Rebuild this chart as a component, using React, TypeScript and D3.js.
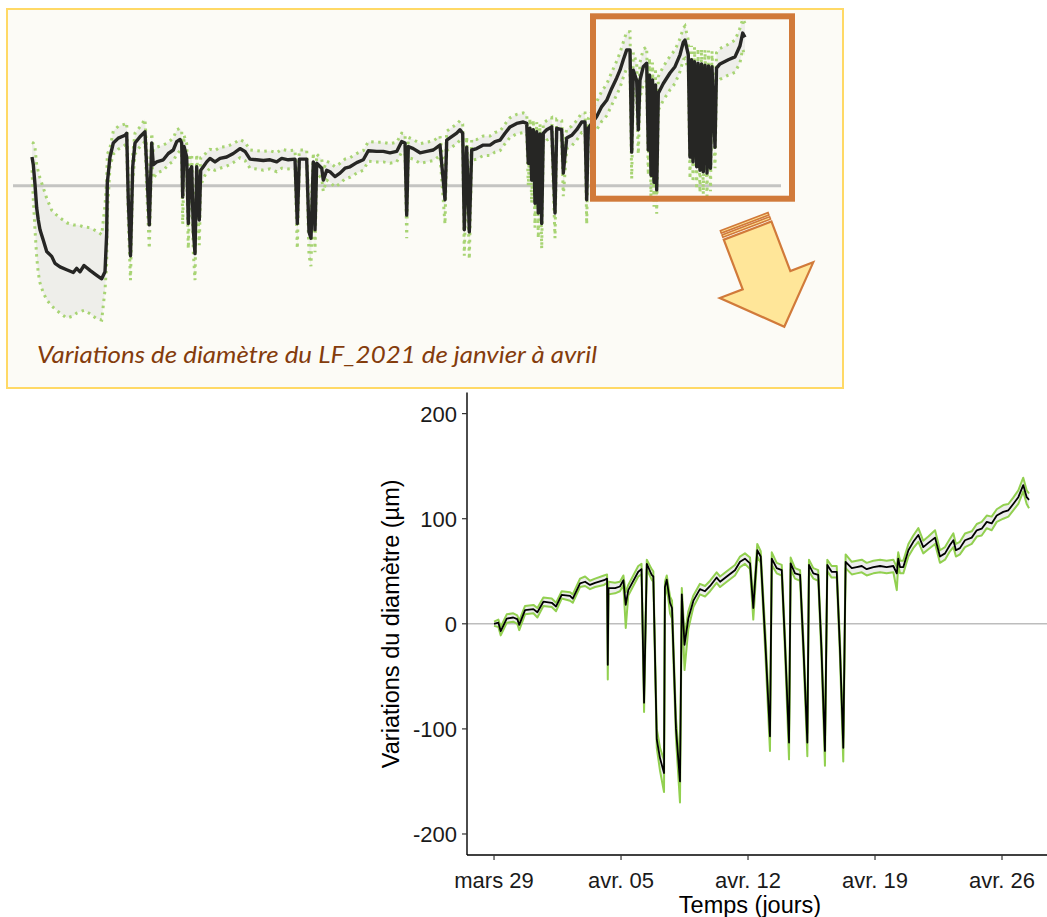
import React from "react";
import * as d3 from "d3";

// ---------- Main chart (29 mars -> 27 avril) ----------
// days since 29 March 2021 00:00
const jours = [0.00,0.24,0.37,0.70,1.06,1.28,1.39,1.71,2.17,2.39,2.72,3.18,3.42,3.73,4.19,4.34,4.74,5.02,5.29,5.57,6.06,6.23,6.27,6.31,6.67,6.94,7.13,7.26,7.40,7.95,8.13,8.27,8.42,8.69,8.78,8.97,9.15,9.37,9.42,9.52,9.70,9.81,10.03,10.25,10.35,10.50,10.71,10.99,11.35,11.63,11.91,12.27,12.46,12.83,13.28,13.56,13.83,14.11,14.29,14.51,14.70,14.96,15.21,15.31,15.58,15.86,16.04,16.26,16.35,16.59,16.87,17.06,17.27,17.36,17.60,17.87,18.05,18.24,18.37,18.61,18.89,19.07,19.25,19.38,19.72,19.99,20.27,20.54,20.91,21.28,21.64,22.01,22.20,22.28,22.38,22.56,22.84,23.11,23.39,23.66,23.94,24.31,24.58,24.86,25.13,25.32,25.46,25.68,25.96,26.33,26.61,26.88,27.16,27.43,27.71,28.07,28.35,28.62,28.90,29.17,29.36,29.49];
const moyenne = [0,1,-7,5,6,4.5,-1,13,14,11,21,20,16.5,27.5,26.5,24,38.5,40,37,39,41.5,43,-39,34,34,35.5,41.5,18,32,49.5,52,-75,57,46.5,45,-110,-128,-142,35,42,20,15,-100,-150,28,-20,5,22,33,31,36,44,40,45,51,59,62,57.5,15,70,64,-20,-107,62,53,51,-20,-113,57.5,48,46.5,-25,-113,56,48,46.5,-25,-121,56,49.5,49.5,-25,-118,59,53,54,55,52,54,55,54,55,48,62,54,54,70,78,84.5,73,77,82,64,67,75,79.5,70,72,79.5,82,89,90.5,97,95.5,103,106.5,108,114,120.5,132,120.5,118];
const borneInf = [-2,-3,-11,1,2,0,-6,9,10,6,17,16,12,24,22,20,35,36,33,35,37,39,-53,28,29,31,37,-4,27,45,47,-84,52,42,40,-118,-140,-160,25,36,10,5,-110,-170,22,-44,-5,16,28,26,31,39,35,40,46,54,57,52,4,64,58,-30,-121,56,48,46,-28,-129,52,43,41,-33,-126,50,43,41,-33,-135,50,44,44,-33,-131,53,47,48,49,46,48,49,48,49,32,56,48,48,64,72,78,67,71,76,58,61,69,73,64,66,73,76,83,84,91,89,97,100,102,108,114,126,114,110];
const borneSup = [2,4,-3,9,10,8,3,17,18,15,25,24,20,31,30,28,43,45,41,43,46,47,20,40,39,40,46,30,37,55,57,-60,61,52,50,-100,-118,-130,40,46,26,22,-90,-138,34,-12,12,27,38,36,41,49,45,50,56,64,67,63,22,76,69,-10,-98,68,58,56,-12,-104,63,53,51,-17,-104,61,53,51,-17,-112,61,55,55,-17,-108,66,59,60,61,58,60,61,60,61,54,68,60,60,76,84,91,79,83,89,70,73,81,86,76,78,86,88,95,97,103,102,109,113,114,120,127,139,127,124];

const yTicks = [-200, -100, 0, 100, 200];
const xTickDays = [0, 7, 14, 21, 28];
const xTickLabels = ["mars 29", "avr. 05", "avr. 12", "avr. 19", "avr. 26"];

// ---------- Inset overview (janvier -> avril) ----------
const apercuJours = [0.4,0.66,1.0,1.34,1.66,2.0,2.66,3.34,4.34,5.0,6.0,7.34,8.66,9.34,10.0,10.8,12.0,13.34,14.34,15.0,15.34,15.46,16.0,16.66,17.66,19.0,19.34,19.66,20.1,20.54,21.0,22.0,23.0,23.34,23.86,24.34,24.66,25.34,26.66,27.66,28.66,29.34,30.0,30.34,30.54,30.8,31.34,31.66,32.0,32.34,32.66,33.0,33.34,33.86,34.14,34.66,35.34,36.0,37.0,38.0,39.34,40.66,42.0,43.0,44.0,45.34,46.66,48.0,49.34,50.34,51.66,53.0,53.46,53.86,55.34,55.8,56.2,56.66,57.0,57.34,58.34,58.66,59.34,60.0,61.0,62.0,63.0,64.0,65.34,66.66,67.66,69.34,70.66,72.0,73.34,74.34,75.0,75.34,75.66,76.66,78.0,79.34,80.66,82.0,83.0,83.34,84.34,85.34,86.0,86.54,86.86,87.34,87.86,88.34,89.34,90.66,92.0,93.0,94.0,95.0,96.0,97.34,98.66,99.34,99.66,100.0,100.34,100.66,101.0,101.34,101.66,102.0,102.34,102.66,103.34,104.34,105.0,105.34,106.34,106.66,107.34,108.34,109.34,110.34,111.0,111.34,111.66,113.34,114.34,115.34,116.34,117.34,118.0,118.66,119.34,120.0,120.34,120.66,121.34,121.66,122.0,122.66,123.34,123.66,123.9,124.2,124.5,124.8,125.1,125.34,125.66,126.66,128.0,129.0,130.0,130.66,131.0,131.66,132.0,132.3,132.6,132.9,133.34,133.6,134.0,134.3,134.66,135.0,135.4,135.7,136.1,136.4,137.0,137.3,138.0,139.66,141.0,142.0,142.54,143.0];
const apercuMoyenne = [41,30,2,-32,-49,-63,-78,-94,-101,-111,-116,-120,-124,-118,-123,-114,-121,-128,-133,-123,-68,4,41,61,68,72,75,-20,-100,27,61,70,77,27,-56,61,30,34,37,46,51,63,66,61,-16,56,41,-54,22,27,-63,-97,27,-49,22,27,34,39,34,39,41,46,53,49,38,37,36,37,34,39,37,38,-54,38,38,-66,-75,34,-63,32,25,8,22,20,13,18,25,27,33,37,50,49,49,47,49,63,61,-42,56,53,47,49,51,58,-20,65,70,75,80,75,-63,55,-66,51,53,58,58,63,65,75,84,89,91,89,32,82,8,80,-25,77,-39,74,-54,75,80,84,-39,82,80,18,68,72,80,91,91,-20,82,99,113,122,139,154,165,180,194,194,48,165,150,80,151,170,175,51,158,15,151,5,144,-6,132,146,161,170,187,205,208,187,41,180,34,177,27,175,22,174,20,172,18,171,25,170,55,168,174,180,184,200,218,212];
const apercuInf = [22,-20,-63,-102,-125,-139,-153,-163,-172,-176,-182,-189,-186,-182,-180,-178,-183,-190,-192,-149,-110,-40,27,45,52,58,60,-50,-135,5,45,56,63,-5,-90,40,10,18,22,30,35,45,50,45,-55,35,20,-90,0,5,-95,-135,5,-85,0,10,20,25,22,25,28,33,40,36,25,24,22,24,20,25,24,25,-90,25,25,-100,-115,20,-95,18,10,-8,8,5,-2,3,10,12,18,22,35,34,34,32,34,48,46,-75,40,38,32,34,36,43,-55,50,55,60,65,60,-100,40,-105,36,38,43,43,48,50,60,69,74,76,74,0,65,-25,63,-60,60,-75,57,-90,58,65,69,-75,67,65,-15,53,57,65,76,76,-55,67,80,92,100,115,130,140,155,168,168,10,140,125,45,126,145,150,15,133,-20,126,-30,120,-40,108,122,137,146,163,180,182,165,10,158,5,155,-5,153,-10,152,-12,150,-15,149,-8,148,25,146,152,158,162,176,195,185];
const apercuSup = [62,61,54,30,20,11,-3,-18,-35,-40,-46,-53,-56,-56,-57,-59,-60,-65,-70,-28,8,45,54,78,85,88,90,10,-70,45,75,84,95,50,-30,75,50,55,58,62,68,80,82,78,20,72,60,-20,40,45,-30,-60,45,-20,40,42,48,52,50,55,56,60,66,62,51,50,49,50,47,52,50,51,-20,51,51,-35,-45,47,-30,45,38,22,35,33,27,32,38,40,46,50,63,62,62,60,62,75,74,-10,69,66,60,62,64,71,10,78,83,88,93,88,-30,70,-35,66,66,71,71,76,78,88,97,102,104,102,60,96,40,94,10,91,-5,88,-20,89,93,97,-5,95,93,50,81,85,93,104,104,15,96,120,135,145,162,178,190,205,220,220,80,190,175,110,176,195,198,85,182,50,176,40,168,30,156,170,185,194,210,225,228,208,70,200,65,198,58,196,55,195,52,194,50,193,58,192,85,190,196,202,208,225,238,232];

const titreApercu = "Variations de diamètre du LF_2021 de janvier à avril";

export default function App() {
  const W = 1047;
  const H = 917;
  const DAY = 86400000;
  const origin = Date.UTC(2021, 2, 29);
  const toDate = (d: number) => new Date(origin + d * DAY);

  // main chart scales
  const x = d3.scaleUtc().domain([toDate(-1.49), toDate(30.48)]).range([467, 1047]);
  const y = d3.scaleLinear().domain([-220, 220]).range([855, 392.6]);

  const idx = jours.map((_, i) => i);
  const lineMean = d3.line<number>().x((i) => x(toDate(jours[i]))).y((i) => y(moyenne[i]));
  const lineInf = d3.line<number>().x((i) => x(toDate(jours[i]))).y((i) => y(borneInf[i]));
  const lineSup = d3.line<number>().x((i) => x(toDate(jours[i]))).y((i) => y(borneSup[i]));
  const ribbon = d3
    .area<number>()
    .x((i) => x(toDate(jours[i])))
    .y0((i) => y(borneInf[i]))
    .y1((i) => y(borneSup[i]));

  // inset scales
  const xi = d3.scaleLinear().domain([0, 143]).range([30, 745]);
  const yi = d3.scaleLinear().domain([-250, 250]).range([360.7, 10.7]);
  const idxI = apercuJours.map((_, i) => i);
  const iMean = d3.line<number>().x((i) => xi(apercuJours[i])).y((i) => yi(apercuMoyenne[i]));
  const iInf = d3.line<number>().x((i) => xi(apercuJours[i])).y((i) => yi(apercuInf[i]));
  const iSup = d3.line<number>().x((i) => xi(apercuJours[i])).y((i) => yi(apercuSup[i]));
  const iRibbon = d3
    .area<number>()
    .x((i) => xi(apercuJours[i]))
    .y0((i) => yi(apercuInf[i]))
    .y1((i) => yi(apercuSup[i]));

  const font = "'Liberation Sans', Arial, Helvetica, sans-serif";
  const orange = "#D17A3A";

  // arrow geometry (local frame, pointing along +x)
  const shaftHalf = 25.5;
  const headHalf = 50;
  const headBase = 62.6;
  const tip = 112.4;
  const bodyStart = 9.5;
  const arrowPath = `M${bodyStart},${-shaftHalf} L${headBase},${-shaftHalf} L${headBase},${-headHalf} L${tip},0 L${headBase},${headHalf} L${headBase},${shaftHalf} L${bodyStart},${shaftHalf} Z`;

  return (
    <div style={{ position: "absolute", left: 0, top: 0 }}>
      <svg width={W} height={H} style={{ display: "block", background: "#ffffff" }}>
        {/* ---------- main chart ---------- */}
        <path d={ribbon(idx) || ""} fill="#EDEDED" stroke="none" />
        <line x1={467} x2={1047} y1={y(0)} y2={y(0)} stroke="#BDBDBD" strokeWidth={1.6} />
        <path d={lineInf(idx) || ""} fill="none" stroke="#92D050" strokeWidth={2} strokeLinejoin="round" />
        <path d={lineSup(idx) || ""} fill="none" stroke="#92D050" strokeWidth={2} strokeLinejoin="round" />
        <path d={lineMean(idx) || ""} fill="none" stroke="#000000" strokeWidth={1.8} strokeLinejoin="round" />

        {/* axes */}
        <line x1={467} x2={467} y1={392.6} y2={855} stroke="#000" strokeWidth={1.4} />
        <line x1={467} x2={1047} y1={855} y2={855} stroke="#000" strokeWidth={1.4} />
        {yTicks.map((t) => (
          <g key={"yt" + t}>
            <line x1={462} x2={467} y1={y(t)} y2={y(t)} stroke="#333" strokeWidth={1.2} />
            <text x={457} y={y(t)} dy="0.36em" textAnchor="end" fontFamily={font} fontSize={22} fill="#1a1a1a">
              {t}
            </text>
          </g>
        ))}
        {xTickDays.map((d, i) => (
          <g key={"xt" + d}>
            <line x1={x(toDate(d))} x2={x(toDate(d))} y1={855} y2={860} stroke="#333" strokeWidth={1.2} />
            <text x={x(toDate(d))} y={888} textAnchor="middle" fontFamily={font} fontSize={22} fill="#1a1a1a">
              {xTickLabels[i]}
            </text>
          </g>
        ))}
        <text x={750} y={913} textAnchor="middle" fontFamily={font} fontSize={23.5} fill="#000">
          Temps (jours)
        </text>
        <text
          transform={`translate(399,${y(0)}) rotate(-90)`}
          textAnchor="middle"
          fontFamily={font}
          fontSize={23.5}
          fill="#000"
        >
          Variations du diamètre (µm)
        </text>

        {/* ---------- inset overview ---------- */}
        <rect x={7} y={9} width={836} height={379} fill="#FCFBF6" stroke="#FFD966" strokeWidth={2} />
        <path d={iRibbon(idxI) || ""} fill="#EEEEEA" stroke="none" />
        <line x1={13} x2={781} y1={yi(0)} y2={yi(0)} stroke="#C4C4C2" strokeWidth={3} />
        <path d={iInf(idxI) || ""} fill="none" stroke="#A8D474" strokeWidth={3} strokeDasharray="2.5 4.5" />
        <path d={iSup(idxI) || ""} fill="none" stroke="#A8D474" strokeWidth={3} strokeDasharray="2.5 4.5" />
        <path d={iMean(idxI) || ""} fill="none" stroke="#262624" strokeWidth={3.4} strokeLinejoin="round" />

        <rect x={593} y={16.3} width={199} height={182.4} fill="none" stroke={orange} strokeWidth={6} />

        <g transform="translate(744.2,221.7) rotate(69.1)">
          <rect x={0} y={-shaftHalf} width={2.5} height={shaftHalf * 2} fill="#FFE699" stroke={orange} strokeWidth={1.6} />
          <rect x={4.5} y={-shaftHalf} width={2.5} height={shaftHalf * 2} fill="#FFE699" stroke={orange} strokeWidth={1.6} />
          <path d={arrowPath} fill="#FFE699" stroke={orange} strokeWidth={2.2} strokeLinejoin="miter" />
        </g>

        <text
          x={37}
          y={363}
          fontFamily="Lato, 'Open Sans', 'DejaVu Sans', sans-serif"
          fontStyle="italic"
          fontSize={23}
          fill="#843C0C"
          textLength={560}
          lengthAdjust="spacingAndGlyphs"
        >
          {titreApercu}
        </text>
      </svg>
    </div>
  );
}
